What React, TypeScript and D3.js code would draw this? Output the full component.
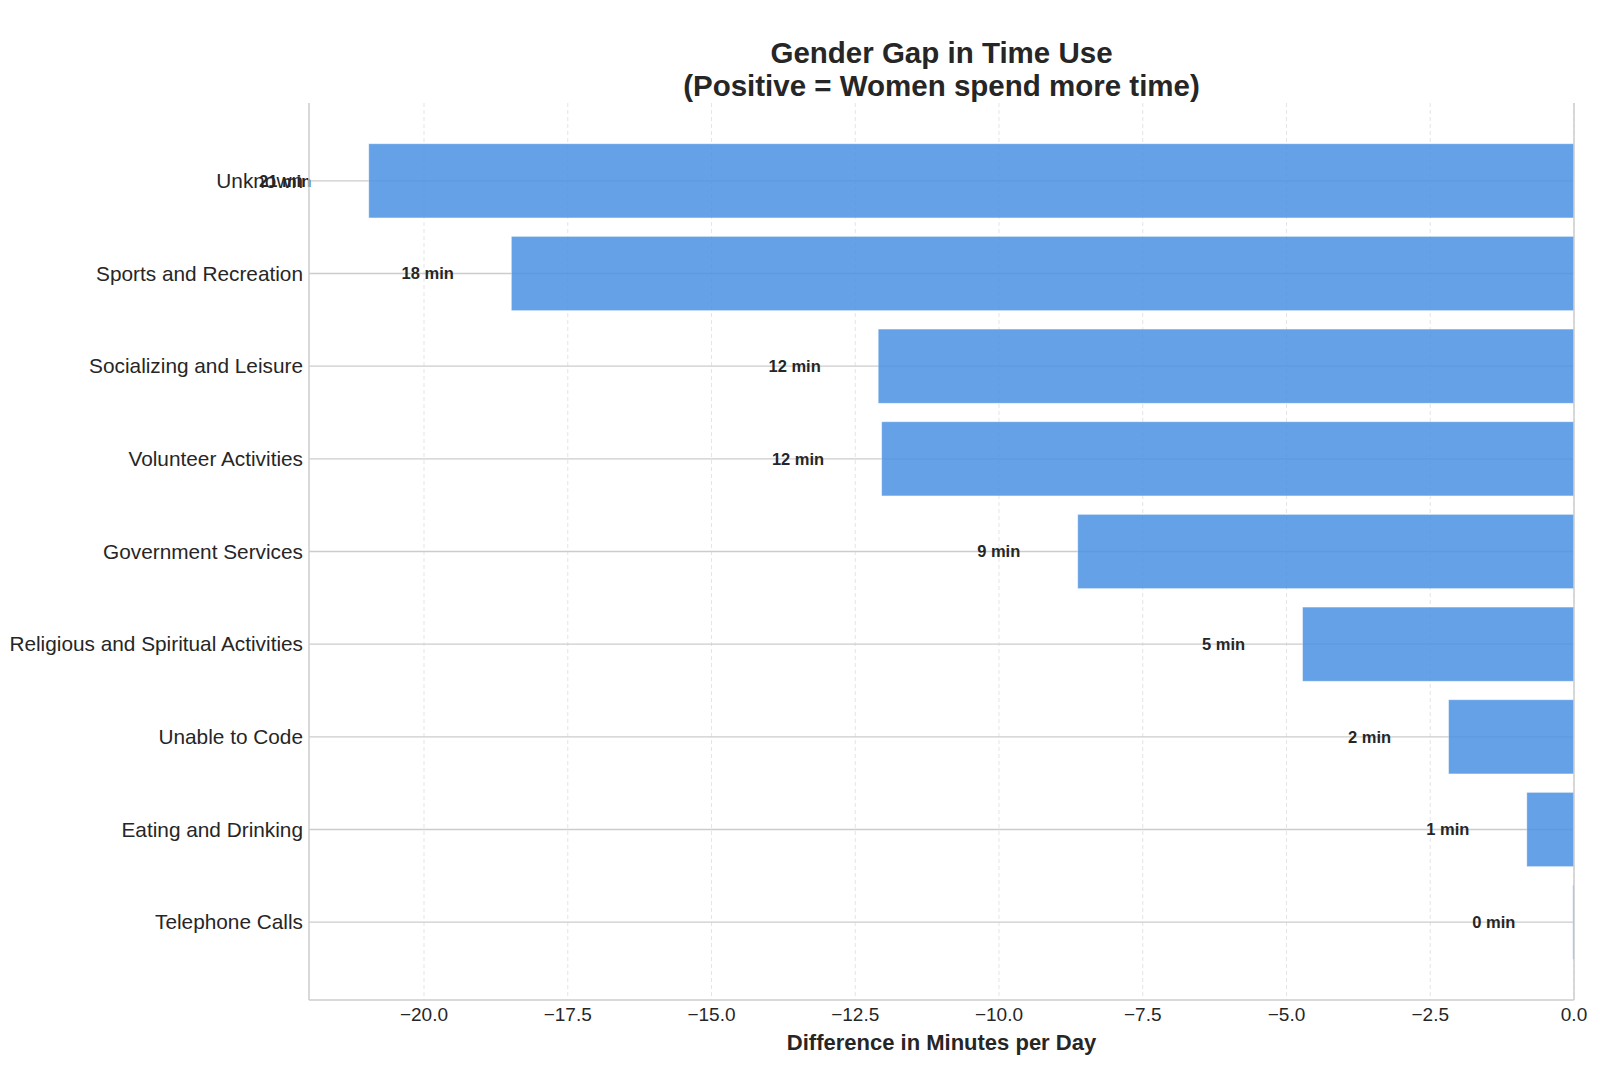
import * as d3 from "d3"

const categories = [
  "Unknown",
  "Sports and Recreation",
  "Socializing and Leisure",
  "Volunteer Activities",
  "Government Services",
  "Religious and Spiritual Activities",
  "Unable to Code",
  "Eating and Drinking",
  "Telephone Calls",
]
const gaps = [-20.96, -18.48, -12.1, -12.04, -8.63, -4.72, -2.18, -0.82, -0.02]
const xTicks = [-20, -17.5, -15, -12.5, -10, -7.5, -5, -2.5, 0]

const width = 1600
const height = 1065
const margin = { top: 103, right: 26, bottom: 65, left: 309 }
const font = "Liberation Sans, Arial, Helvetica, sans-serif"

export default function App() {
  const x = d3.scaleLinear().domain([-22.0, 0]).range([margin.left, width - margin.right])
  const y = d3.scaleLinear().domain([-0.84, 8.84]).range([margin.top, height - margin.bottom])
  const band = y(0.4) - y(-0.4)
  const fmt = (v: number) => v.toFixed(1).replace("-", "\u2212")
  const cx = (margin.left + width - margin.right) / 2

  return (
    <svg width={width} height={height} style={{ position: "absolute", left: 0, top: 0, background: "#fff" }} fontFamily={font}>
      <text x={cx} y={63} textAnchor="middle" fontSize={29.5} fontWeight="bold" fill="#262626">Gender Gap in Time Use</text>
      <text x={cx} y={96} textAnchor="middle" fontSize={29.5} fontWeight="bold" fill="#262626">(Positive = Women spend more time)</text>

      {/* x grid (dashed) */}
      {xTicks.map(t => (
        <line key={t} x1={x(t)} x2={x(t)} y1={margin.top} y2={height - margin.bottom}
          stroke="#d5d5d5" strokeWidth={1} strokeDasharray="4,3" opacity={0.6} />
      ))}
      {/* y grid */}
      {categories.map((c, i) => (
        <line key={c} x1={margin.left} x2={width - margin.right} y1={y(i)} y2={y(i)} stroke="#cccccc" strokeWidth={1.3} />
      ))}

      {/* bars */}
      {gaps.map((v, i) => (
        <rect key={i} x={x(v)} width={Math.max(x(0) - x(v), 1.2)} y={y(i) - band / 2} height={band}
          fill="#4a90e2" fillOpacity={0.85} stroke="#ffffff" strokeOpacity={0.4} strokeWidth={0.8} />
      ))}

      {/* value labels */}
      {gaps.map((v, i) => (
        <text key={i} x={x(v - 1)} y={y(i)} dy="0.35em" textAnchor="end" fontSize={16.5} fontWeight="bold" fill="#262626">
          {`${Math.round(Math.abs(v))} min`}
        </text>
      ))}

      {/* spines */}
      <line x1={margin.left} x2={margin.left} y1={margin.top} y2={height - margin.bottom} stroke="#cccccc" strokeWidth={1.5} />
      <line x1={width - margin.right} x2={width - margin.right} y1={margin.top} y2={height - margin.bottom} stroke="#cccccc" strokeWidth={1.5} />
      <line x1={margin.left} x2={width - margin.right} y1={height - margin.bottom} y2={height - margin.bottom} stroke="#cccccc" strokeWidth={1.5} />

      {/* y labels */}
      {categories.map((c, i) => (
        <text key={c} x={margin.left - 6} y={y(i)} dy="0.35em" textAnchor="end" fontSize={20.8} fill="#262626">{c}</text>
      ))}

      {/* x tick labels */}
      {xTicks.map(t => (
        <text key={t} x={x(t)} y={height - margin.bottom + 21} textAnchor="middle" fontSize={19} fill="#262626">{fmt(t)}</text>
      ))}
      <text x={cx} y={1050} textAnchor="middle" fontSize={22} fontWeight="bold" fill="#262626">
        Difference in Minutes per Day
      </text>
    </svg>
  )
}
